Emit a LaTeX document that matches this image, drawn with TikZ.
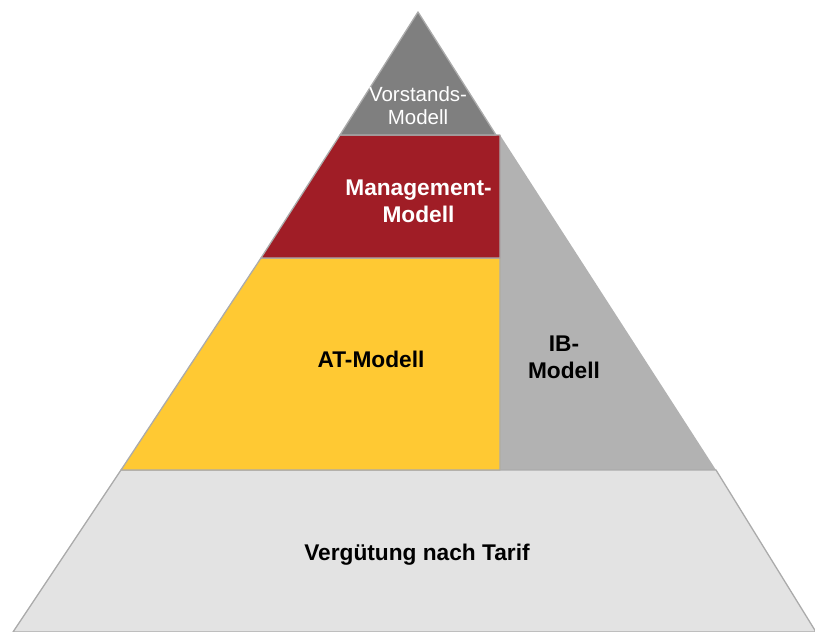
\documentclass[tikz,border=0pt]{standalone}
\usepackage{fontspec}
\setmainfont{Liberation Sans}
\definecolor{topgray}{HTML}{7F7F7F}
\definecolor{mgmtred}{HTML}{A01D26}
\definecolor{atyellow}{HTML}{FFC933}
\definecolor{ibgray}{HTML}{B2B2B2}
\definecolor{basegray}{HTML}{E3E3E3}
\definecolor{edgegray}{HTML}{ABABAB}
\begin{document}
\begin{tikzpicture}[x=1pt,y=-1pt,
    layer/.style={draw=edgegray,line width=1.3pt,line join=round},
    boldlabel/.style={font=\fontsize{22.7}{27}\selectfont\bfseries,align=center,inner sep=0pt},
    thinlabel/.style={font=\fontsize{20.5}{23}\selectfont,align=center,inner sep=0pt,text=white}]
      \useasboundingbox (0,0) rectangle (815,632);
      \coordinate (apex) at (418,12);
      \coordinate (l1) at (340,135);
      \coordinate (r1) at (496,135);
      \coordinate (l2) at (261,258);
      \coordinate (l3) at (121,470);
      \coordinate (r3) at (716,470);
      \coordinate (l4) at (13,632);
      \coordinate (r4) at (816,632);
      \coordinate (m1) at (500,135);
      \coordinate (m2) at (500,258);
      \coordinate (m3) at (500,470);
      \begin{scope}
        \fill[ibgray] (m1) -- (r3) -- (m3) -- cycle;
        \draw[layer,fill=basegray] (l3) -- (r3) -- (r4) -- (l4) -- cycle;
        \draw[layer,fill=atyellow] (l2) -- (m2) -- (m3) -- (l3) -- cycle;
        \draw[layer,fill=mgmtred] (l1) -- (m1) -- (m2) -- (l2) -- cycle;
        \draw[layer,fill=topgray] (apex) -- (r1) -- (l1) -- cycle;
      \end{scope}
      \node[thinlabel] (vorstand) at (418,106) {Vorstands-\\Modell};
      \node[boldlabel,text=white] (mgmt) at (418.5,201) {Management-\\Modell};
      \node[boldlabel,anchor=base] (at) at (371,367) {AT-Modell};
      \node[boldlabel] (ib) at (564,357) {IB-\\Modell};
      \node[boldlabel,anchor=base] (tarif) at (417,560) {Vergütung nach Tarif};
    \end{tikzpicture}
\end{document}
